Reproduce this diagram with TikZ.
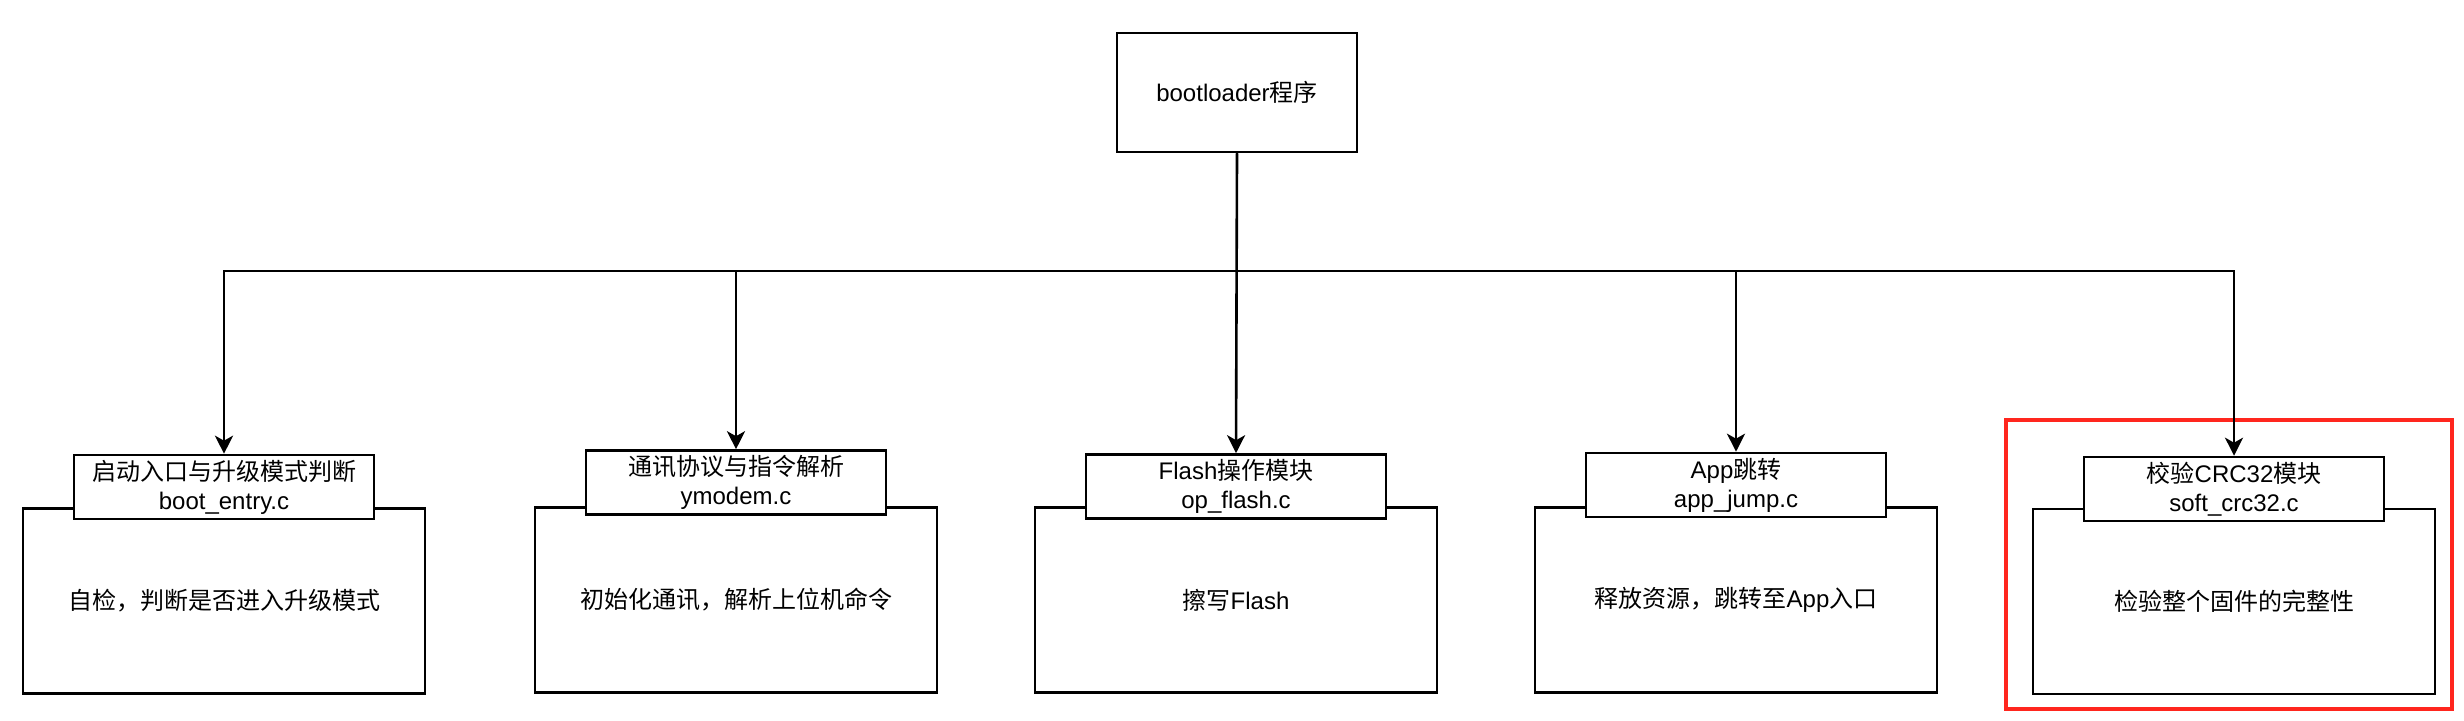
\documentclass[tikz,border=0pt]{standalone}
\usepackage{fontspec}
\setmainfont{Liberation Sans}
\newfontfamily\cjk{Noto Sans CJK SC}
\usetikzlibrary{arrows.meta}
\newcommand\zh[1]{{\cjk #1}}
\tikzset{
  every node/.style={font=\fontsize{24}{29}\selectfont, inner sep=0pt},
  line/.style={line width=2.6pt, draw=black},
  arr/.style={line width=2.6pt, draw=black, -{Stealth[length=18pt,width=18pt,inset=5pt]}},
  bodybox/.style={draw=black, line width=2.6pt, fill=white, minimum width=402pt, minimum height=185pt},
  titlebox/.style={draw=black, line width=2.6pt, fill=white, minimum width=300pt, minimum height=64pt, align=center},
  topbox/.style={draw=black, line width=2.6pt, fill=white, minimum width=240pt, minimum height=119pt},
  hlbox/.style={draw={rgb,255:red,255;green,38;blue,30}, line width=3.6pt, minimum width=446pt, minimum height=289pt}
}
\begin{document}
\begin{tikzpicture}[x=1pt,y=-1pt]
\useasboundingbox (0,0) rectangle (2464,720);
\node[hlbox] (hl) at (2229,564.5) {};
\node[topbox] (top) at (1237,92.5) {bootloader\zh{程序}};

\node[bodybox] (b1) at (224,601) {\zh{自检，判断是否进入升级模式}};
\node[bodybox] (b2) at (736,600) {\zh{初始化通讯，解析上位机命令}};
\node[bodybox] (b3) at (1236,600) {\zh{擦写}Flash};
\node[bodybox] (b4) at (1736,600) {\zh{释放资源，跳转至}App\zh{入口}};
\node[bodybox] (b5) at (2234,601.5) {\zh{检验整个固件的完整性}};

\node[titlebox] (t1) at (224,487) {\zh{启动入口与升级模式判断}\\boot\_entry.c};
\node[titlebox] (t2) at (736,482.5) {\zh{通讯协议与指令解析}\\ymodem.c};
\node[titlebox] (t3) at (1236,486.5) {Flash\zh{操作模块}\\op\_flash.c};
\node[titlebox] (t4) at (1736,485) {App\zh{跳转}\\app\_jump.c};
\node[titlebox] (t5) at (2234,489) {\zh{校验}CRC32\zh{模块}\\soft\_crc32.c};

\coordinate (hub) at (1237,271);
\draw[line] (top.south) -- (hub);
\draw[arr] (hub) -| (t1.north);
\draw[arr] (hub) -| (t2.north);
\draw[arr] (top.south) -- (t3.north);
\draw[arr] (hub) -| (t4.north);
\draw[arr] (hub) -| (t5.north);
\end{tikzpicture}
\end{document}
